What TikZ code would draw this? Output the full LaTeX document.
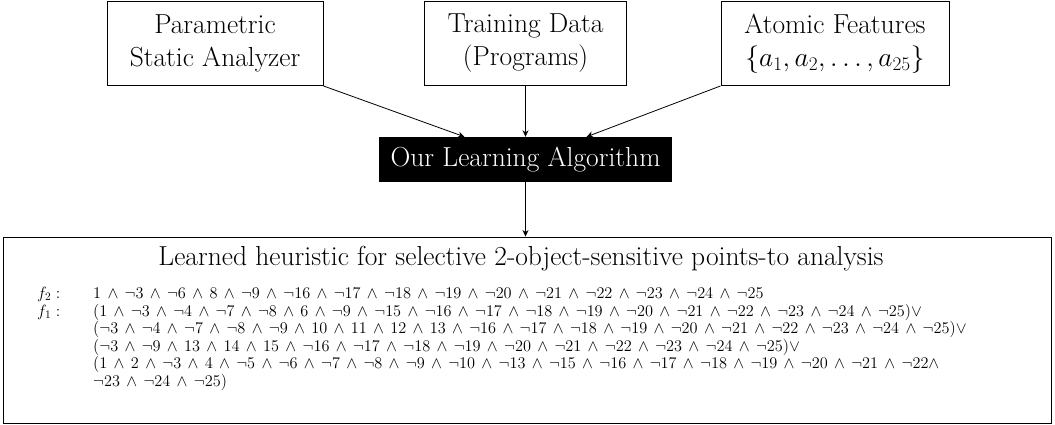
\RequirePackage{fix-cm}
\documentclass[tikz,border=0pt]{standalone}
\usetikzlibrary{arrows.meta}

\newcommand{\bigfont}{\fontsize{27.5}{33}\selectfont}
\newcommand{\formfont}{\fontsize{16.3}{17.5}\selectfont\medmuskip=7mu}

\tikzset{
  box/.style={draw, line width=0.9pt, inner sep=0pt, align=center, font=\bigfont},
  algbox/.style={fill=black, text=white, inner sep=0pt, font=\bigfont,
                 minimum width=293pt, minimum height=45pt},
  flow/.style={line width=0.8pt, -{Stealth[length=6.5pt,width=6pt,inset=2pt]}},
  formula/.style={anchor=base west, inner sep=0pt, font=\formfont,
                  text height=10pt, text depth=3pt},
}

\begin{document}
\begin{tikzpicture}[x=1pt,y=-1pt]
  \useasboundingbox (0,0) rectangle (1055,425);

  % inputs
  \node[box, minimum width=216pt, minimum height=84pt] (analyzer) at (215,43.5)
    {Parametric\\Static Analyzer};
  \node[box, minimum width=202pt, minimum height=84pt] (data) at (525.5,43.5)
    {Training Data\\(Programs)};
  \node[box, minimum width=228pt, minimum height=84pt] (features) at (835,43.5)
    {Atomic Features\\$\{a_1, a_2, \ldots, a_{25}\}$};

  % learner
  \node[algbox] (alg) at (525.5,159.5) {Our Learning Algorithm};
  \coordinate (algL) at ([xshift=-61pt]alg.north);
  \coordinate (algR) at ([xshift=61pt]alg.north);

  % result
  \node[draw, line width=0.9pt, minimum width=1048pt, minimum height=186pt, inner sep=0pt]
    (result) at (527,330) {};

  \draw[flow] (analyzer.south east) -- (algL);
  \draw[flow] (data.south) -- (alg.north);
  \draw[flow] (features.south west) -- (algR);
  \draw[flow] (alg.south) -- (result.north -| alg.south);

  \node[anchor=base, inner sep=0pt, font=\bigfont] (title) at (521,265)
    {Learned heuristic for selective 2-object-sensitive points-to analysis};

  \node[formula] (lf2) at (37,298.5) {$f_2:$};
  \node[formula] (lf1) at (37,316) {$f_1:$};

  \node[formula] (r0) at (93,298.5)
    {$1 \land \neg3 \land \neg6 \land 8 \land \neg9 \land \neg16 \land \neg17 \land \neg18 \land \neg19 \land \neg20 \land \neg21 \land \neg22 \land \neg23 \land \neg24 \land \neg25$};
  \node[formula] (r1) at (93,316)
    {$(1 \land \neg3 \land \neg4 \land \neg7 \land \neg8 \land 6 \land \neg9 \land \neg15 \land \neg16 \land \neg17 \land \neg18 \land \neg19 \land \neg20 \land \neg21 \land \neg22 \land \neg23 \land \neg24 \land \neg25)\lor$};
  \node[formula] (r2) at (93,333.5)
    {$(\neg3 \land \neg4 \land \neg7 \land \neg8 \land \neg9 \land 10 \land 11 \land 12 \land 13 \land \neg16 \land \neg17 \land \neg18 \land \neg19 \land \neg20 \land \neg21 \land \neg22 \land \neg23 \land \neg24 \land \neg25)\lor$};
  \node[formula] (r3) at (93,351)
    {$(\neg3 \land \neg9 \land 13 \land 14 \land 15 \land \neg16 \land \neg17 \land \neg18 \land \neg19 \land \neg20 \land \neg21 \land \neg22 \land \neg23 \land \neg24 \land \neg25)\lor$};
  \node[formula] (r4) at (93,368.5)
    {$(1 \land 2 \land \neg3 \land 4 \land \neg5 \land \neg6 \land \neg7 \land \neg8 \land \neg9 \land \neg10 \land \neg13 \land \neg15 \land \neg16 \land \neg17 \land \neg18 \land \neg19 \land \neg20 \land \neg21 \land \neg22\land$};
  \node[formula] (r5) at (93,386)
    {$\neg23 \land \neg24 \land \neg25)$};
\end{tikzpicture}
\end{document}
